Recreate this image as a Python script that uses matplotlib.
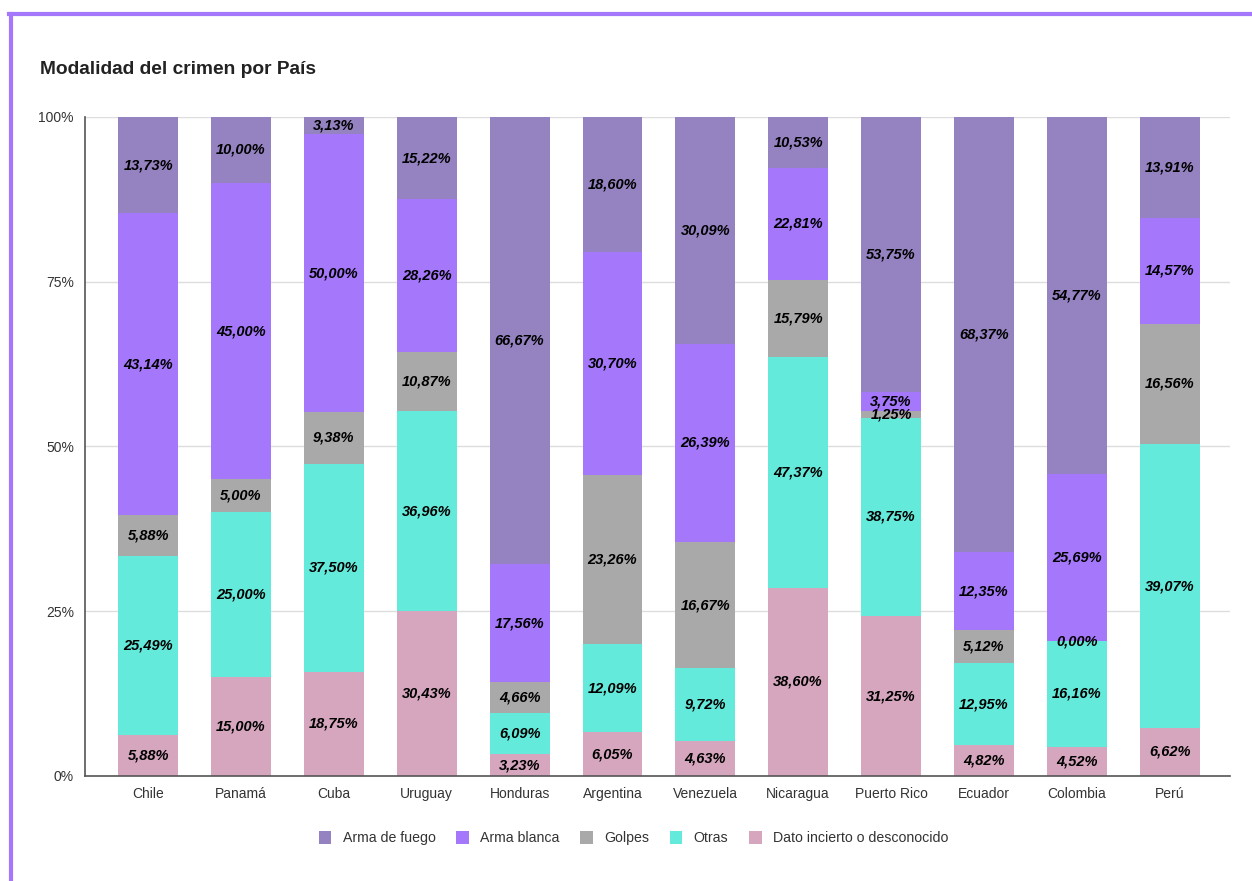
import matplotlib.pyplot as plt
import numpy as np

paises = ['Chile', 'Panamá', 'Cuba', 'Uruguay', 'Honduras', 'Argentina',
          'Venezuela', 'Nicaragua', 'Puerto Rico', 'Ecuador', 'Colombia', 'Perú']

# porcentajes por modalidad (de abajo hacia arriba en la barra)
dato_incierto = [5.88, 15.00, 18.75, 30.43, 3.23, 6.05, 4.63, 38.60, 31.25, 4.82, 4.52, 6.62]
otras = [25.49, 25.00, 37.50, 36.96, 6.09, 12.09, 9.72, 47.37, 38.75, 12.95, 16.16, 39.07]
golpes = [5.88, 5.00, 9.38, 10.87, 4.66, 23.26, 16.67, 15.79, 1.25, 5.12, 0.00, 16.56]
arma_blanca = [43.14, 45.00, 50.00, 28.26, 17.56, 30.70, 26.39, 22.81, 3.75, 12.35, 25.69, 14.57]
arma_fuego = [13.73, 10.00, 3.13, 15.22, 66.67, 18.60, 30.09, 10.53, 53.75, 68.37, 54.77, 13.91]

series = [
    ('Dato incierto o desconocido', dato_incierto, '#d5a6bd'),
    ('Otras', otras, '#64eada'),
    ('Golpes', golpes, '#a9a9a9'),
    ('Arma blanca', arma_blanca, '#a477fb'),
    ('Arma de fuego', arma_fuego, '#9582c1'),
]

plt.rcParams['font.family'] = ['Liberation Sans', 'DejaVu Sans']

fig = plt.figure(figsize=(12.52, 8.81), dpi=100)
ax = fig.add_axes([0.0679, 0.1192, 0.9145, 0.748])

x = np.arange(len(paises))
totales = np.sum([s[1] for s in series], axis=0)
base = np.zeros(len(paises))
barras = {}
for nombre, vals, color in series:
    vals = np.array(vals)
    h = vals / totales * 100
    barras[nombre] = ax.bar(x, h, 0.645, bottom=base, color=color, zorder=2)
    for xi, b, hi, v in zip(x, base, h, vals):
        ax.text(xi, b + hi / 2, f'{v:.2f}%'.replace('.', ','), ha='center', va='center',
                fontsize=10.5, fontweight='bold', fontstyle='italic', color='#000000', zorder=3)
    base += h

ax.set_xlim(-0.68, 11.65)
ax.set_ylim(0, 100)
ax.set_yticks([0, 25, 50, 75, 100])
ax.set_yticklabels(['0%', '25%', '50%', '75%', '100%'])
ax.set_xticks(x)
ax.set_xticklabels(paises)
ax.tick_params(length=0, labelsize=10, colors='#333333', pad=8)
ax.tick_params(axis='y', pad=8)
ax.grid(axis='y', color='#dddddd', linewidth=1, zorder=0)
for lado in ['top', 'right']:
    ax.spines[lado].set_visible(False)
for lado in ['left', 'bottom']:
    ax.spines[lado].set_color('#555555')
    ax.spines[lado].set_linewidth(1.2)
    ax.spines[lado].set_zorder(4)

fig.text(0.032, 0.921, 'Modalidad del crimen por País', fontsize=13.8,
         fontweight='bold', color='#222222', va='center')

orden = ['Arma de fuego', 'Arma blanca', 'Golpes', 'Otras', 'Dato incierto o desconocido']
fig.legend([barras[n] for n in orden], orden, loc='center', bbox_to_anchor=(0.506, 0.049),
           ncol=5, frameon=False, fontsize=10.2, handlelength=0.9, handleheight=1.1,
           columnspacing=1.45, handletextpad=0.8, labelcolor='#333333')

# marco superior e izquierdo
fig.add_artist(plt.Line2D([0.0072, 1], [0.984, 0.984], color='#a477fb', linewidth=3,
                          transform=fig.transFigure))
fig.add_artist(plt.Line2D([0.0085, 0.0085], [0, 0.984], color='#a477fb', linewidth=3,
                          transform=fig.transFigure))

fig.savefig('out.png', dpi=100, facecolor='white')
